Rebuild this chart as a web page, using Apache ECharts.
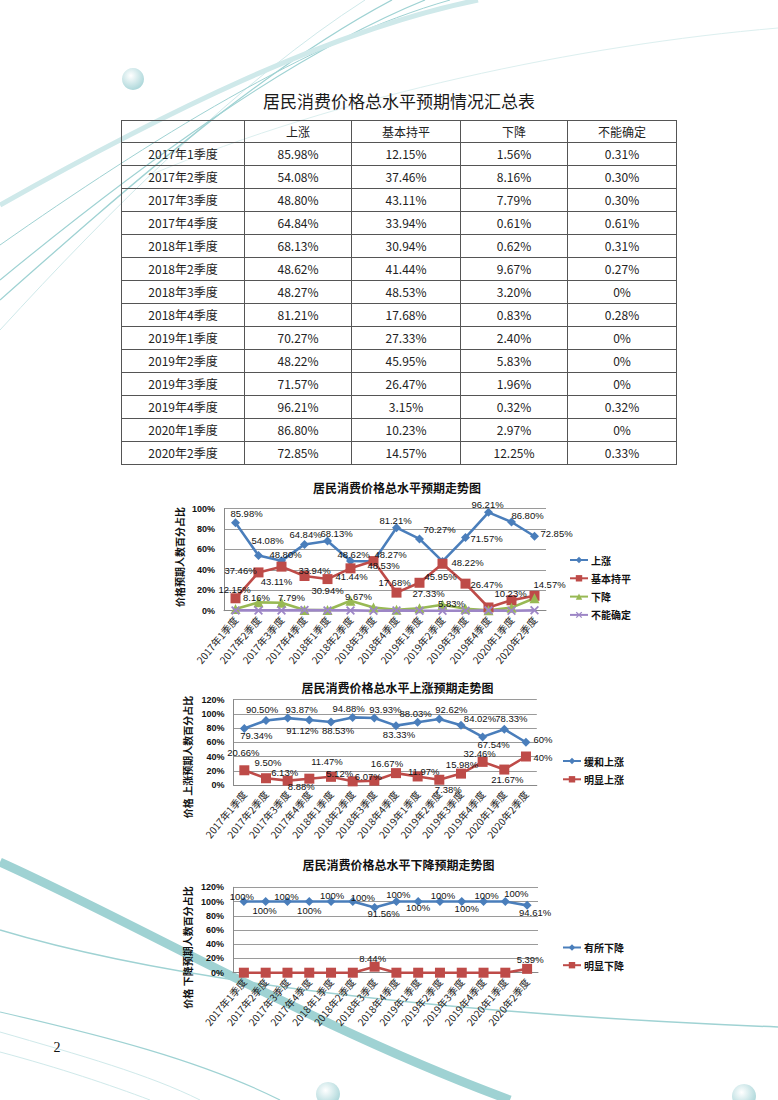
<!DOCTYPE html>
<html><head><meta charset="utf-8">
<script src="https://cdn.jsdelivr.net/npm/echarts@6/dist/echarts.min.js"></script>
<style>
html,body{margin:0;padding:0;background:#fff;}
#wrap{position:relative;width:778px;height:1100px;overflow:hidden;background:#fff;}
#chart{position:absolute;left:0;top:0;width:778px;height:1100px;}
#ttl{position:absolute;left:0;width:798px;top:90px;line-height:21px;text-align:center;font-family:"Noto Sans CJK SC";font-size:17px;color:#1a1a1a;}
#tbl{position:absolute;left:121px;top:120px;border-collapse:collapse;table-layout:fixed;width:555px;font-family:"Noto Sans CJK SC";font-size:12px;color:#222;}
#tbl td{border:1px solid #555;text-align:center;padding:0;line-height:14px;overflow:hidden;white-space:nowrap;}
#tbl tr.h td{height:21px;}
#tbl tr.r td{height:22px;}
</style></head>
<body>
<div id="wrap">
<div id="chart"></div>
<div id="ttl"></div>
<table id="tbl"><colgroup><col style="width:123px"><col style="width:107px"><col style="width:109px"><col style="width:107px"><col style="width:109px"></colgroup><tbody id="tb"></tbody></table>
</div>
<script>
// ---------------- data ----------------
const tableTitle = '居民消费价格总水平预期情况汇总表';
const quarters = ['2017年1季度','2017年2季度','2017年3季度','2017年4季度','2018年1季度','2018年2季度','2018年3季度','2018年4季度','2019年1季度','2019年2季度','2019年3季度','2019年4季度','2020年1季度','2020年2季度'];
const tableHeaders = ['上涨','基本持平','下降','不能确定'];
const rise   = [85.98,54.08,48.80,64.84,68.13,48.62,48.27,81.21,70.27,48.22,71.57,96.21,86.80,72.85];
const flat   = [12.15,37.46,43.11,33.94,30.94,41.44,48.53,17.68,27.33,45.95,26.47,3.15,10.23,14.57];
const fall   = [1.56,8.16,7.79,0.61,0.62,9.67,3.20,0.83,2.40,5.83,1.96,0.32,2.97,12.25];
const unsure = [0.31,0.30,0.30,0.61,0.31,0.27,0,0.28,0,0,0,0.32,0,0.33];

const chart1Title = '居民消费价格总水平预期走势图';
const chart1YName = '价格预期人数百分占比';
const chart2Title = '居民消费价格总水平上涨预期走势图';
const chart2YName = '价格 上涨预期人数百分占比';
const mildRiseName = '缓和上涨', sharpRiseName = '明显上涨';
const mildRise  = [79.34,90.50,93.87,91.12,88.53,94.88,93.93,83.33,88.03,92.62,84.02,67.54,78.33,60];
const sharpRise = [20.66,9.50,6.13,8.88,11.47,5.12,6.07,16.67,11.97,7.38,15.98,32.46,21.67,40];

const chart3Title = '居民消费价格总水平下降预期走势图';
const chart3YName = '价格 下降预期人数百分占比';
const someFallName = '有所下降', sharpFallName = '明显下降';
const someFall  = [100,100,100,100,100,100,91.56,100,100,100,100,100,100,94.61];
const sharpFall = [0,0,0,0,0,0,8.44,0,0,0,0,0,0,5.39];

const pageNumber = '2';

// ---------------- label placement (style only) ----------------
const offRise   = [[11,-9],[9,-15],[4,-6],[1,-10],[9,-8],[3,-7],[17,-7],[-1,-7],[20,-9],[25,1],[21,1],[-1,-8],[16,-6],[22,-3]];
const offFlat   = [[-1,-9],[-18,-2],[-5,15],[10,-6],[0,11],[1,8],[10,4],[-2,-10],[9,11],[-2,13],[21,1],null,[-1,-7],[15,-11]];
const offFall   = [null,[-2,-5],[10,-5],null,null,[8,-4],null,null,null,[9,-1],null,null,null,null];
const offUnsure = [null,null,null,null,null,null,null,null,null,null,null,null,null,null];
const offMild   = [[12,7],[-4,-11],[14,-9],[-7,10],[7,9],[-4,-9],[11,-9],[3,9],[-2,-9],[12,-10],[19,-7],[11,8],[7,-11],[17,-3]];
const offSharp  = [[-1,-18],[2,-16],[-3,-8],[-8,8],[-4,-15],[-13,-8],[-6,-4],[-9,-10],[6,-5],[9,10],[1,-9],[-3,-8],[3,10],[17,1]];
const offSome   = [[-2,-5],[-1,9],[-1,-5],[0,9],[1,-6],[10,-4],[9,6],[2,-7],[0,6],[3,-6],[5,7],[3,-6],[11,-8],[8,7]];
const offSharpF = [null,null,null,null,null,null,[-2,-8],null,null,null,null,null,null,[3,-9]];

// ---------------- table ----------------
const pct = v => v === 0 ? '0%' : v.toFixed(2) + '%';
document.getElementById('ttl').textContent = tableTitle;
(function(){
  const tb = document.getElementById('tb');
  let h = '<tr class="h"><td></td>' + tableHeaders.map(t => '<td>' + t + '</td>').join('') + '</tr>';
  quarters.forEach((q, i) => {
    h += '<tr class="r"><td>' + q + '</td><td>' + pct(rise[i]) + '</td><td>' + pct(flat[i]) + '</td><td>' + pct(fall[i]) + '</td><td>' + pct(unsure[i]) + '</td></tr>';
  });
  tb.innerHTML = h;
})();

// ---------------- chart ----------------
const CJK = 'Noto Sans CJK SC';
const BLUE = '#4A7EBB', RED = '#BE4B48', GREEN = '#98B954', PURPLE = '#8064A2';
const XSYM = 'path://M0,1.4L1.4,0L5,3.6L8.6,0L10,1.4L6.4,5L10,8.6L8.6,10L5,6.4L1.4,10L0,8.6L3.6,5Z';
const fmt = p => { const v = p.value; return (Number.isInteger(v) ? v : v.toFixed(2)) + '%'; };

function pts(vals, offs) {
  return vals.map((v, i) => ({
    value: v,
    label: offs[i] ? { show: true, position: 'inside', offset: offs[i] } : { show: false }
  }));
}
function ser(name, vals, offs, idx, color, symbol, size) {
  return {
    name, type: 'line', xAxisIndex: idx, yAxisIndex: idx,
    data: pts(vals, offs), symbol, symbolSize: size,
    lineStyle: { color, width: 2.6 }, itemStyle: { color },
    label: { show: true, formatter: fmt, fontSize: 9.5, color: '#111', fontFamily: 'Liberation Sans' },
    emphasis: { disabled: true }, z: 3
  };
}
function xAx(idx) {
  return {
    gridIndex: idx, type: 'category', data: quarters, boundaryGap: true,
    axisLine: { lineStyle: { color: '#888', width: 1 } }, axisTick: { show: false },
    axisLabel: { interval: 0, rotate: 50, fontSize: 10, margin: 7, color: '#222', fontFamily: CJK }
  };
}
function yAx(idx, max) {
  return {
    gridIndex: idx, type: 'value', min: 0, max, interval: 20,
    axisLine: { show: true, lineStyle: { color: '#888' } }, axisTick: { show: false },
    splitLine: { lineStyle: { color: '#9a9a9a', width: 1 } },
    axisLabel: { formatter: '{value}%', fontSize: 9, fontWeight: 'bold', color: '#111', margin: 9, fontFamily: 'Liberation Sans' }
  };
}
function legend(names, left, top, gap) {
  return {
    orient: 'vertical', left, top, itemGap: gap, itemWidth: 18, itemHeight: 8,
    data: names, selectedMode: false,
    textStyle: { fontSize: 10, fontWeight: 'bold', color: '#111', fontFamily: CJK, lineHeight: 12, padding: [0, 0, 0, -2] }
  };
}
function txt(text, x, y, size, weight, rot, family) {
  return { type: 'text', x, y, rotation: rot || 0, z: 5, silent: true,
    style: { text, fontSize: size, fontWeight: weight, fontFamily: family || CJK, fill: '#111', textAlign: 'center', textVerticalAlign: 'middle' } };
}
const TEAL = '#9fd2d3', TEAL_L = '#cfe9ea';
function curve(x1, y1, c1x, c1y, c2x, c2y, x2, y2, w, col) {
  return { type: 'bezierCurve', z: -10, silent: true,
    shape: { x1, y1, cpx1: c1x, cpy1: c1y, cpx2: c2x, cpy2: c2y, x2, y2 },
    style: { stroke: col, lineWidth: w, fill: null } };
}
function bubble(cx, cy, r) {
  return { type: 'circle', z: -9, silent: true, shape: { cx, cy, r },
    style: { fill: { type: 'radial', x: 0.4, y: 0.35, r: 0.7, colorStops: [{ offset: 0, color: '#ffffff' }, { offset: 1, color: '#a8d5d8' }] } } };
}

const chart = echarts.init(document.getElementById('chart'), null, { renderer: 'svg' });
chart.setOption({
  animation: false,
  backgroundColor: 'transparent',
  grid: [
    { left: 224, top: 508.5, width: 322, height: 102.2 },
    { left: 233.5, top: 699.5, width: 303.3, height: 85.5 },
    { left: 233, top: 887.3, width: 305, height: 85.4 }
  ],
  xAxis: [xAx(0), xAx(1), xAx(2)],
  yAxis: [yAx(0, 100), yAx(1, 120), yAx(2, 120)],
  legend: [
    legend(['上涨', '基本持平', '下降', '不能确定'], 564, 549, 6.3),
    legend([mildRiseName, sharpRiseName], 557, 750, 6.3),
    legend([someFallName, sharpFallName], 557, 936.5, 5.7)
  ],
  series: [
    ser('上涨', rise, offRise, 0, BLUE, 'diamond', 9),
    ser('基本持平', flat, offFlat, 0, RED, 'rect', 10),
    ser('下降', fall, offFall, 0, GREEN, 'triangle', 10),
    ser('不能确定', unsure, offUnsure, 0, '#9d86c6', XSYM, 9),
    ser(mildRiseName, mildRise, offMild, 1, BLUE, 'diamond', 9),
    ser(sharpRiseName, sharpRise, offSharp, 1, RED, 'rect', 10),
    ser(someFallName, someFall, offSome, 2, BLUE, 'diamond', 9),
    ser(sharpFallName, sharpFall, offSharpF, 2, RED, 'rect', 10)
  ],
  graphic: [
    // decorative background
    curve(0, 330, 110, 210, 240, 80, 365, 0, 1, TEAL_L),
    curve(0, 300, 130, 185, 260, 70, 392, 0, 1.3, TEAL),
    curve(0, 280, 140, 165, 290, 55, 425, 0, 1.2, TEAL),
    curve(0, 245, 150, 140, 310, 40, 450, 0, 1, TEAL),
    curve(0, 205, 160, 115, 330, 30, 478, 0, 5, TEAL_L),
    curve(150, 175, 340, 95, 580, 45, 778, 28, 1, '#dcefef'),
    curve(0, 862, 140, 925, 320, 1030, 510, 1100, 9, TEAL),
    curve(0, 930, 150, 975, 400, 1012, 778, 1027, 1.5, TEAL),
    curve(0, 1012, 100, 1035, 200, 1060, 280, 1100, 1.2, TEAL),
    curve(0, 1032, 80, 1055, 150, 1075, 200, 1100, 1, TEAL_L),
    curve(0, 1052, 60, 1068, 110, 1085, 150, 1100, 1, TEAL_L),
    bubble(133, 79, 11),
    bubble(328, 1094, 12),
    bubble(744, 1096, 12),
    // titles and axis names
    txt(chart1Title, 397, 487, 12, 'bold'),
    txt(chart2Title, 397.5, 687.3, 12, 'bold'),
    txt(chart3Title, 398.5, 864.3, 12, 'bold'),
    txt(chart1YName, 179, 557, 10, 'bold', Math.PI / 2),
    txt(chart2YName, 187.3, 757, 10, 'bold', Math.PI / 2),
    txt(chart3YName, 187.3, 947.5, 10, 'bold', Math.PI / 2),
    txt(pageNumber, 57, 1047, 14, 'normal', 0, 'Liberation Serif')
  ]
});
</script>
</body></html>
